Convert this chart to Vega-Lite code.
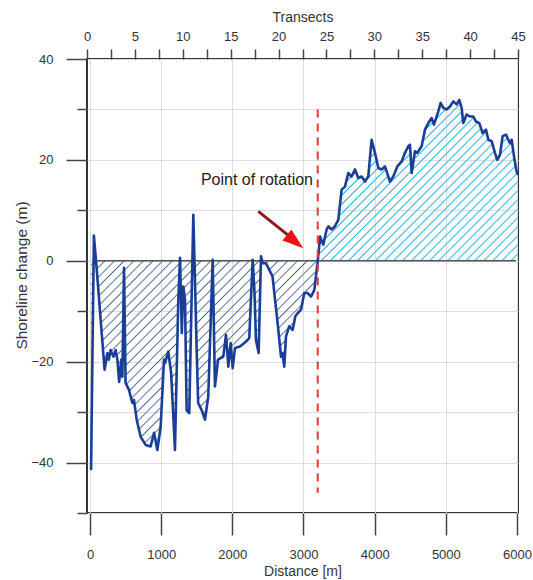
{
  "$schema": "https://vega.github.io/schema/vega-lite/v6.json",
  "autosize": {"type": "none"},
  "width": 431,
  "height": 454,
  "padding": {"left": 87, "top": 59, "right": 15, "bottom": 67},
  "config": {
    "font": "Liberation Sans",
    "view": {"stroke": "#333333", "strokeWidth": 2},
    "axis": {
      "labelFont": "Liberation Sans",
      "titleFont": "Liberation Sans",
      "labelColor": "#333333",
      "titleColor": "#333333",
      "titleFontWeight": "normal",
      "labelFontSize": 13,
      "titleFontSize": 14,
      "tickColor": "#444444",
      "tickWidth": 1.5,
      "domain": false,
      "labelFlush": false,
      "labelOverlap": false,
      "gridColor": "#dcdcdc",
      "gridWidth": 1
    }
  },
  "datasets": {
    "shoreline": [
      {"d": 15, "v": -41.5}, {"d": 55, "v": 5.0}, {"d": 95, "v": -1.8}, {"d": 205, "v": -21.6},
      {"d": 245, "v": -18.3}, {"d": 265, "v": -19.6}, {"d": 290, "v": -17.7}, {"d": 330, "v": -19.0},
      {"d": 360, "v": -17.7}, {"d": 385, "v": -19.6}, {"d": 410, "v": -24.0}, {"d": 440, "v": -19.6},
      {"d": 455, "v": -23.0}, {"d": 478, "v": -1.4}, {"d": 500, "v": -24.2}, {"d": 548, "v": -25.6},
      {"d": 595, "v": -28.2}, {"d": 618, "v": -27.6}, {"d": 656, "v": -31.5}, {"d": 712, "v": -34.9},
      {"d": 782, "v": -36.5}, {"d": 852, "v": -36.8}, {"d": 900, "v": -34.1}, {"d": 946, "v": -37.5},
      {"d": 993, "v": -32.9}, {"d": 1040, "v": -19.6}, {"d": 1054, "v": -20.3}, {"d": 1100, "v": -18.0},
      {"d": 1140, "v": -22.2}, {"d": 1194, "v": -37.5}, {"d": 1241, "v": -7.7}, {"d": 1265, "v": 0.6},
      {"d": 1290, "v": -14.3}, {"d": 1311, "v": -5.1}, {"d": 1335, "v": -7.7}, {"d": 1358, "v": -29.6},
      {"d": 1395, "v": -30.2}, {"d": 1452, "v": 9.1}, {"d": 1499, "v": -17.7}, {"d": 1520, "v": -28.2},
      {"d": 1569, "v": -29.6}, {"d": 1616, "v": -31.5}, {"d": 1662, "v": -26.9}, {"d": 1724, "v": 0.2},
      {"d": 1756, "v": -24.9}, {"d": 1800, "v": -19.6}, {"d": 1873, "v": -19.0}, {"d": 1911, "v": -14.7},
      {"d": 1944, "v": -21.0}, {"d": 1977, "v": -16.3}, {"d": 2005, "v": -21.3}, {"d": 2037, "v": -17.3},
      {"d": 2108, "v": -17.0}, {"d": 2168, "v": -16.3}, {"d": 2215, "v": -15.7}, {"d": 2238, "v": -15.3},
      {"d": 2286, "v": 0.2}, {"d": 2310, "v": -5.8}, {"d": 2332, "v": -15.7}, {"d": 2370, "v": -18.3},
      {"d": 2403, "v": 0.9}, {"d": 2425, "v": -0.5}, {"d": 2473, "v": -0.5}, {"d": 2519, "v": -1.8},
      {"d": 2565, "v": -3.1}, {"d": 2590, "v": -6.4}, {"d": 2637, "v": -12.4}, {"d": 2684, "v": -19.0},
      {"d": 2705, "v": -18.3}, {"d": 2730, "v": -21.0}, {"d": 2754, "v": -15.0}, {"d": 2800, "v": -13.0},
      {"d": 2847, "v": -13.7}, {"d": 2885, "v": -11.0}, {"d": 2918, "v": -10.4}, {"d": 2965, "v": -9.7},
      {"d": 3011, "v": -6.4}, {"d": 3058, "v": -6.4}, {"d": 3105, "v": -7.1}, {"d": 3152, "v": -5.8},
      {"d": 3175, "v": -3.1}, {"d": 3200, "v": 0.0}, {"d": 3215, "v": 2.0}, {"d": 3232, "v": 4.8},
      {"d": 3278, "v": 3.2}, {"d": 3325, "v": 6.2}, {"d": 3350, "v": 6.8}, {"d": 3395, "v": 6.2},
      {"d": 3440, "v": 6.8}, {"d": 3489, "v": 8.1}, {"d": 3536, "v": 14.1}, {"d": 3583, "v": 14.7},
      {"d": 3629, "v": 17.4}, {"d": 3676, "v": 16.7}, {"d": 3723, "v": 18.1}, {"d": 3770, "v": 16.4},
      {"d": 3817, "v": 16.7}, {"d": 3863, "v": 15.7}, {"d": 3910, "v": 16.7}, {"d": 3957, "v": 24.0},
      {"d": 4004, "v": 21.4}, {"d": 4051, "v": 18.4}, {"d": 4098, "v": 18.1}, {"d": 4145, "v": 18.7},
      {"d": 4215, "v": 15.7}, {"d": 4262, "v": 16.7}, {"d": 4318, "v": 18.7}, {"d": 4380, "v": 19.7},
      {"d": 4426, "v": 21.4}, {"d": 4473, "v": 22.7}, {"d": 4496, "v": 23.0}, {"d": 4520, "v": 17.4},
      {"d": 4566, "v": 21.7}, {"d": 4600, "v": 21.4}, {"d": 4660, "v": 22.7}, {"d": 4707, "v": 26.0},
      {"d": 4754, "v": 27.3}, {"d": 4800, "v": 28.3}, {"d": 4833, "v": 27.0}, {"d": 4894, "v": 29.6},
      {"d": 4927, "v": 31.3}, {"d": 4964, "v": 30.3}, {"d": 5011, "v": 30.0}, {"d": 5058, "v": 30.6},
      {"d": 5105, "v": 31.6}, {"d": 5152, "v": 31.0}, {"d": 5189, "v": 31.9}, {"d": 5222, "v": 30.3},
      {"d": 5245, "v": 27.3}, {"d": 5292, "v": 29.0}, {"d": 5339, "v": 28.6}, {"d": 5386, "v": 28.6},
      {"d": 5424, "v": 27.6}, {"d": 5470, "v": 27.3}, {"d": 5517, "v": 25.3}, {"d": 5564, "v": 26.0},
      {"d": 5597, "v": 24.0}, {"d": 5644, "v": 23.7}, {"d": 5690, "v": 21.4}, {"d": 5723, "v": 20.0},
      {"d": 5761, "v": 21.0}, {"d": 5798, "v": 24.7}, {"d": 5845, "v": 25.0}, {"d": 5878, "v": 24.0},
      {"d": 5902, "v": 23.3}, {"d": 5925, "v": 24.0}, {"d": 5958, "v": 20.7}, {"d": 5990, "v": 18.0},
      {"d": 6010, "v": 17.0}
    ],
    "single": [{"n": 1}]
  },
  "resolve": {"scale": {"x": "independent"}, "axis": {"x": "independent"}},
  "layer": [
    {
      "layer": [
        {
          "data": {"name": "shoreline"},
          "transform": [{"filter": "datum.d <= 3200"}],
          "mark": {
            "type": "area",
            "stroke": null,
            "fill": {
              "gradient": "linear", "x1": 0, "y1": 0, "x2": 0.939, "y2": 1.055,
              "stops": [
                {"offset": 0, "color": "rgba(255,255,255,0)"}, {"offset": 0.004, "color": "#3f6294"}, {"offset": 0.008, "color": "rgba(255,255,255,0)"},
                {"offset": 0.02, "color": "rgba(255,255,255,0)"}, {"offset": 0.024, "color": "#3f6294"}, {"offset": 0.028, "color": "rgba(255,255,255,0)"},
                {"offset": 0.04, "color": "rgba(255,255,255,0)"}, {"offset": 0.044, "color": "#3f6294"}, {"offset": 0.048, "color": "rgba(255,255,255,0)"},
                {"offset": 0.06, "color": "rgba(255,255,255,0)"}, {"offset": 0.064, "color": "#3f6294"}, {"offset": 0.068, "color": "rgba(255,255,255,0)"},
                {"offset": 0.08, "color": "rgba(255,255,255,0)"}, {"offset": 0.084, "color": "#3f6294"}, {"offset": 0.088, "color": "rgba(255,255,255,0)"},
                {"offset": 0.1, "color": "rgba(255,255,255,0)"}, {"offset": 0.104, "color": "#3f6294"}, {"offset": 0.108, "color": "rgba(255,255,255,0)"},
                {"offset": 0.12, "color": "rgba(255,255,255,0)"}, {"offset": 0.124, "color": "#3f6294"}, {"offset": 0.128, "color": "rgba(255,255,255,0)"},
                {"offset": 0.14, "color": "rgba(255,255,255,0)"}, {"offset": 0.144, "color": "#3f6294"}, {"offset": 0.148, "color": "rgba(255,255,255,0)"},
                {"offset": 0.16, "color": "rgba(255,255,255,0)"}, {"offset": 0.164, "color": "#3f6294"}, {"offset": 0.168, "color": "rgba(255,255,255,0)"},
                {"offset": 0.18, "color": "rgba(255,255,255,0)"}, {"offset": 0.184, "color": "#3f6294"}, {"offset": 0.188, "color": "rgba(255,255,255,0)"},
                {"offset": 0.2, "color": "rgba(255,255,255,0)"}, {"offset": 0.204, "color": "#3f6294"}, {"offset": 0.208, "color": "rgba(255,255,255,0)"},
                {"offset": 0.22, "color": "rgba(255,255,255,0)"}, {"offset": 0.224, "color": "#3f6294"}, {"offset": 0.228, "color": "rgba(255,255,255,0)"},
                {"offset": 0.24, "color": "rgba(255,255,255,0)"}, {"offset": 0.244, "color": "#3f6294"}, {"offset": 0.248, "color": "rgba(255,255,255,0)"},
                {"offset": 0.26, "color": "rgba(255,255,255,0)"}, {"offset": 0.264, "color": "#3f6294"}, {"offset": 0.268, "color": "rgba(255,255,255,0)"},
                {"offset": 0.28, "color": "rgba(255,255,255,0)"}, {"offset": 0.284, "color": "#3f6294"}, {"offset": 0.288, "color": "rgba(255,255,255,0)"},
                {"offset": 0.3, "color": "rgba(255,255,255,0)"}, {"offset": 0.304, "color": "#3f6294"}, {"offset": 0.308, "color": "rgba(255,255,255,0)"},
                {"offset": 0.32, "color": "rgba(255,255,255,0)"}, {"offset": 0.324, "color": "#3f6294"}, {"offset": 0.328, "color": "rgba(255,255,255,0)"},
                {"offset": 0.34, "color": "rgba(255,255,255,0)"}, {"offset": 0.344, "color": "#3f6294"}, {"offset": 0.348, "color": "rgba(255,255,255,0)"},
                {"offset": 0.36, "color": "rgba(255,255,255,0)"}, {"offset": 0.364, "color": "#3f6294"}, {"offset": 0.368, "color": "rgba(255,255,255,0)"},
                {"offset": 0.38, "color": "rgba(255,255,255,0)"}, {"offset": 0.384, "color": "#3f6294"}, {"offset": 0.388, "color": "rgba(255,255,255,0)"},
                {"offset": 0.4, "color": "rgba(255,255,255,0)"}, {"offset": 0.404, "color": "#3f6294"}, {"offset": 0.408, "color": "rgba(255,255,255,0)"},
                {"offset": 0.42, "color": "rgba(255,255,255,0)"}, {"offset": 0.424, "color": "#3f6294"}, {"offset": 0.428, "color": "rgba(255,255,255,0)"},
                {"offset": 0.44, "color": "rgba(255,255,255,0)"}, {"offset": 0.444, "color": "#3f6294"}, {"offset": 0.448, "color": "rgba(255,255,255,0)"},
                {"offset": 0.46, "color": "rgba(255,255,255,0)"}, {"offset": 0.464, "color": "#3f6294"}, {"offset": 0.468, "color": "rgba(255,255,255,0)"},
                {"offset": 0.48, "color": "rgba(255,255,255,0)"}, {"offset": 0.484, "color": "#3f6294"}, {"offset": 0.488, "color": "rgba(255,255,255,0)"},
                {"offset": 0.5, "color": "rgba(255,255,255,0)"}, {"offset": 0.504, "color": "#3f6294"}, {"offset": 0.508, "color": "rgba(255,255,255,0)"},
                {"offset": 0.52, "color": "rgba(255,255,255,0)"}, {"offset": 0.524, "color": "#3f6294"}, {"offset": 0.528, "color": "rgba(255,255,255,0)"},
                {"offset": 0.54, "color": "rgba(255,255,255,0)"}, {"offset": 0.544, "color": "#3f6294"}, {"offset": 0.548, "color": "rgba(255,255,255,0)"},
                {"offset": 0.56, "color": "rgba(255,255,255,0)"}, {"offset": 0.564, "color": "#3f6294"}, {"offset": 0.568, "color": "rgba(255,255,255,0)"},
                {"offset": 0.58, "color": "rgba(255,255,255,0)"}, {"offset": 0.584, "color": "#3f6294"}, {"offset": 0.588, "color": "rgba(255,255,255,0)"},
                {"offset": 0.6, "color": "rgba(255,255,255,0)"}, {"offset": 0.604, "color": "#3f6294"}, {"offset": 0.608, "color": "rgba(255,255,255,0)"},
                {"offset": 0.62, "color": "rgba(255,255,255,0)"}, {"offset": 0.624, "color": "#3f6294"}, {"offset": 0.628, "color": "rgba(255,255,255,0)"},
                {"offset": 0.64, "color": "rgba(255,255,255,0)"}, {"offset": 0.644, "color": "#3f6294"}, {"offset": 0.648, "color": "rgba(255,255,255,0)"},
                {"offset": 0.66, "color": "rgba(255,255,255,0)"}, {"offset": 0.664, "color": "#3f6294"}, {"offset": 0.668, "color": "rgba(255,255,255,0)"},
                {"offset": 0.68, "color": "rgba(255,255,255,0)"}, {"offset": 0.684, "color": "#3f6294"}, {"offset": 0.688, "color": "rgba(255,255,255,0)"},
                {"offset": 0.7, "color": "rgba(255,255,255,0)"}, {"offset": 0.704, "color": "#3f6294"}, {"offset": 0.708, "color": "rgba(255,255,255,0)"},
                {"offset": 0.72, "color": "rgba(255,255,255,0)"}, {"offset": 0.724, "color": "#3f6294"}, {"offset": 0.728, "color": "rgba(255,255,255,0)"},
                {"offset": 0.74, "color": "rgba(255,255,255,0)"}, {"offset": 0.744, "color": "#3f6294"}, {"offset": 0.748, "color": "rgba(255,255,255,0)"},
                {"offset": 0.76, "color": "rgba(255,255,255,0)"}, {"offset": 0.764, "color": "#3f6294"}, {"offset": 0.768, "color": "rgba(255,255,255,0)"},
                {"offset": 0.78, "color": "rgba(255,255,255,0)"}, {"offset": 0.784, "color": "#3f6294"}, {"offset": 0.788, "color": "rgba(255,255,255,0)"},
                {"offset": 0.8, "color": "rgba(255,255,255,0)"}, {"offset": 0.804, "color": "#3f6294"}, {"offset": 0.808, "color": "rgba(255,255,255,0)"},
                {"offset": 0.82, "color": "rgba(255,255,255,0)"}, {"offset": 0.824, "color": "#3f6294"}, {"offset": 0.828, "color": "rgba(255,255,255,0)"},
                {"offset": 0.84, "color": "rgba(255,255,255,0)"}, {"offset": 0.844, "color": "#3f6294"}, {"offset": 0.848, "color": "rgba(255,255,255,0)"},
                {"offset": 0.86, "color": "rgba(255,255,255,0)"}, {"offset": 0.864, "color": "#3f6294"}, {"offset": 0.868, "color": "rgba(255,255,255,0)"},
                {"offset": 0.88, "color": "rgba(255,255,255,0)"}, {"offset": 0.884, "color": "#3f6294"}, {"offset": 0.888, "color": "rgba(255,255,255,0)"},
                {"offset": 0.9, "color": "rgba(255,255,255,0)"}, {"offset": 0.904, "color": "#3f6294"}, {"offset": 0.908, "color": "rgba(255,255,255,0)"},
                {"offset": 0.92, "color": "rgba(255,255,255,0)"}, {"offset": 0.924, "color": "#3f6294"}, {"offset": 0.928, "color": "rgba(255,255,255,0)"},
                {"offset": 0.94, "color": "rgba(255,255,255,0)"}, {"offset": 0.944, "color": "#3f6294"}, {"offset": 0.948, "color": "rgba(255,255,255,0)"},
                {"offset": 0.96, "color": "rgba(255,255,255,0)"}, {"offset": 0.964, "color": "#3f6294"}, {"offset": 0.968, "color": "rgba(255,255,255,0)"},
                {"offset": 0.98, "color": "rgba(255,255,255,0)"}, {"offset": 0.984, "color": "#3f6294"}, {"offset": 0.988, "color": "rgba(255,255,255,0)"}
              ]
            }
          },
          "encoding": {
            "x": {
              "field": "d", "type": "quantitative",
              "scale": {"domain": [-42, 6014], "nice": false, "zero": false},
              "axis": {
                "orient": "bottom",
                "title": "Distance [m]",
                "values": [0, 500, 1000, 1500, 2000, 2500, 3000, 3500, 4000, 4500, 5000, 5500, 6000],
                "format": "d",
                "labelExpr": "datum.value % 1000 === 0 ? datum.label : ''",
                "tickSize": {"expr": "datum.value % 1000 === 0 ? 22 : 10"},
                "labelPadding": 23,
                "labelBaseline": "alphabetic",
                "titleBaseline": "alphabetic",
                "titleY": 62,
                "grid": true
              }
            },
            "y": {
              "field": "v", "type": "quantitative",
              "scale": {"domain": [-50, 40], "nice": false, "zero": false},
              "axis": {
                "title": "Shoreline change (m)",
                "values": [-50, -40, -30, -20, -10, 0, 10, 20, 30, 40],
                "labelExpr": "datum.value % 20 === 0 ? datum.label : ''",
                "tickSize": {"expr": "datum.value % 20 === 0 ? 21 : 10"},
                "labelPadding": 13,
                "titleFontSize": 15.5,
                "titleX": -66,
                "titleY": 216,
                "titleBaseline": "middle",
                "grid": true
              }
            },
            "y2": {"datum": 0}
          }
        },
        {
          "data": {"name": "shoreline"},
          "transform": [{"filter": "datum.d >= 3200"}],
          "mark": {
            "type": "area",
            "stroke": null,
            "fill": {
              "gradient": "linear", "x1": 0, "y1": 0, "x2": 1.095, "y2": 0.882,
              "stops": [
                {"offset": 0, "color": "rgba(255,255,255,0)"}, {"offset": 0.006, "color": "#1fb0e2"}, {"offset": 0.012, "color": "rgba(255,255,255,0)"},
                {"offset": 0.025, "color": "rgba(255,255,255,0)"}, {"offset": 0.031, "color": "#1fb0e2"}, {"offset": 0.037, "color": "rgba(255,255,255,0)"},
                {"offset": 0.05, "color": "rgba(255,255,255,0)"}, {"offset": 0.056, "color": "#1fb0e2"}, {"offset": 0.062, "color": "rgba(255,255,255,0)"},
                {"offset": 0.075, "color": "rgba(255,255,255,0)"}, {"offset": 0.081, "color": "#1fb0e2"}, {"offset": 0.087, "color": "rgba(255,255,255,0)"},
                {"offset": 0.1, "color": "rgba(255,255,255,0)"}, {"offset": 0.106, "color": "#1fb0e2"}, {"offset": 0.112, "color": "rgba(255,255,255,0)"},
                {"offset": 0.125, "color": "rgba(255,255,255,0)"}, {"offset": 0.131, "color": "#1fb0e2"}, {"offset": 0.137, "color": "rgba(255,255,255,0)"},
                {"offset": 0.15, "color": "rgba(255,255,255,0)"}, {"offset": 0.156, "color": "#1fb0e2"}, {"offset": 0.162, "color": "rgba(255,255,255,0)"},
                {"offset": 0.175, "color": "rgba(255,255,255,0)"}, {"offset": 0.181, "color": "#1fb0e2"}, {"offset": 0.187, "color": "rgba(255,255,255,0)"},
                {"offset": 0.2, "color": "rgba(255,255,255,0)"}, {"offset": 0.206, "color": "#1fb0e2"}, {"offset": 0.212, "color": "rgba(255,255,255,0)"},
                {"offset": 0.225, "color": "rgba(255,255,255,0)"}, {"offset": 0.231, "color": "#1fb0e2"}, {"offset": 0.237, "color": "rgba(255,255,255,0)"},
                {"offset": 0.25, "color": "rgba(255,255,255,0)"}, {"offset": 0.256, "color": "#1fb0e2"}, {"offset": 0.262, "color": "rgba(255,255,255,0)"},
                {"offset": 0.275, "color": "rgba(255,255,255,0)"}, {"offset": 0.281, "color": "#1fb0e2"}, {"offset": 0.287, "color": "rgba(255,255,255,0)"},
                {"offset": 0.3, "color": "rgba(255,255,255,0)"}, {"offset": 0.306, "color": "#1fb0e2"}, {"offset": 0.312, "color": "rgba(255,255,255,0)"},
                {"offset": 0.325, "color": "rgba(255,255,255,0)"}, {"offset": 0.331, "color": "#1fb0e2"}, {"offset": 0.337, "color": "rgba(255,255,255,0)"},
                {"offset": 0.35, "color": "rgba(255,255,255,0)"}, {"offset": 0.356, "color": "#1fb0e2"}, {"offset": 0.362, "color": "rgba(255,255,255,0)"},
                {"offset": 0.375, "color": "rgba(255,255,255,0)"}, {"offset": 0.381, "color": "#1fb0e2"}, {"offset": 0.387, "color": "rgba(255,255,255,0)"},
                {"offset": 0.4, "color": "rgba(255,255,255,0)"}, {"offset": 0.406, "color": "#1fb0e2"}, {"offset": 0.412, "color": "rgba(255,255,255,0)"},
                {"offset": 0.425, "color": "rgba(255,255,255,0)"}, {"offset": 0.431, "color": "#1fb0e2"}, {"offset": 0.437, "color": "rgba(255,255,255,0)"},
                {"offset": 0.45, "color": "rgba(255,255,255,0)"}, {"offset": 0.456, "color": "#1fb0e2"}, {"offset": 0.462, "color": "rgba(255,255,255,0)"},
                {"offset": 0.475, "color": "rgba(255,255,255,0)"}, {"offset": 0.481, "color": "#1fb0e2"}, {"offset": 0.487, "color": "rgba(255,255,255,0)"},
                {"offset": 0.5, "color": "rgba(255,255,255,0)"}, {"offset": 0.506, "color": "#1fb0e2"}, {"offset": 0.512, "color": "rgba(255,255,255,0)"},
                {"offset": 0.525, "color": "rgba(255,255,255,0)"}, {"offset": 0.531, "color": "#1fb0e2"}, {"offset": 0.537, "color": "rgba(255,255,255,0)"},
                {"offset": 0.55, "color": "rgba(255,255,255,0)"}, {"offset": 0.556, "color": "#1fb0e2"}, {"offset": 0.562, "color": "rgba(255,255,255,0)"},
                {"offset": 0.575, "color": "rgba(255,255,255,0)"}, {"offset": 0.581, "color": "#1fb0e2"}, {"offset": 0.587, "color": "rgba(255,255,255,0)"},
                {"offset": 0.6, "color": "rgba(255,255,255,0)"}, {"offset": 0.606, "color": "#1fb0e2"}, {"offset": 0.612, "color": "rgba(255,255,255,0)"},
                {"offset": 0.625, "color": "rgba(255,255,255,0)"}, {"offset": 0.631, "color": "#1fb0e2"}, {"offset": 0.637, "color": "rgba(255,255,255,0)"},
                {"offset": 0.65, "color": "rgba(255,255,255,0)"}, {"offset": 0.656, "color": "#1fb0e2"}, {"offset": 0.662, "color": "rgba(255,255,255,0)"},
                {"offset": 0.675, "color": "rgba(255,255,255,0)"}, {"offset": 0.681, "color": "#1fb0e2"}, {"offset": 0.687, "color": "rgba(255,255,255,0)"},
                {"offset": 0.7, "color": "rgba(255,255,255,0)"}, {"offset": 0.706, "color": "#1fb0e2"}, {"offset": 0.712, "color": "rgba(255,255,255,0)"},
                {"offset": 0.725, "color": "rgba(255,255,255,0)"}, {"offset": 0.731, "color": "#1fb0e2"}, {"offset": 0.737, "color": "rgba(255,255,255,0)"},
                {"offset": 0.75, "color": "rgba(255,255,255,0)"}, {"offset": 0.756, "color": "#1fb0e2"}, {"offset": 0.762, "color": "rgba(255,255,255,0)"},
                {"offset": 0.775, "color": "rgba(255,255,255,0)"}, {"offset": 0.781, "color": "#1fb0e2"}, {"offset": 0.787, "color": "rgba(255,255,255,0)"},
                {"offset": 0.8, "color": "rgba(255,255,255,0)"}, {"offset": 0.806, "color": "#1fb0e2"}, {"offset": 0.812, "color": "rgba(255,255,255,0)"},
                {"offset": 0.825, "color": "rgba(255,255,255,0)"}, {"offset": 0.831, "color": "#1fb0e2"}, {"offset": 0.837, "color": "rgba(255,255,255,0)"},
                {"offset": 0.85, "color": "rgba(255,255,255,0)"}, {"offset": 0.856, "color": "#1fb0e2"}, {"offset": 0.862, "color": "rgba(255,255,255,0)"},
                {"offset": 0.875, "color": "rgba(255,255,255,0)"}, {"offset": 0.881, "color": "#1fb0e2"}, {"offset": 0.887, "color": "rgba(255,255,255,0)"},
                {"offset": 0.9, "color": "rgba(255,255,255,0)"}, {"offset": 0.906, "color": "#1fb0e2"}, {"offset": 0.912, "color": "rgba(255,255,255,0)"},
                {"offset": 0.925, "color": "rgba(255,255,255,0)"}, {"offset": 0.931, "color": "#1fb0e2"}, {"offset": 0.937, "color": "rgba(255,255,255,0)"},
                {"offset": 0.95, "color": "rgba(255,255,255,0)"}, {"offset": 0.956, "color": "#1fb0e2"}, {"offset": 0.962, "color": "rgba(255,255,255,0)"},
                {"offset": 0.975, "color": "rgba(255,255,255,0)"}, {"offset": 0.981, "color": "#1fb0e2"}, {"offset": 0.987, "color": "rgba(255,255,255,0)"}
              ]
            }
          },
          "encoding": {
            "x": {"field": "d", "type": "quantitative"},
            "y": {"field": "v", "type": "quantitative"},
            "y2": {"datum": 0}
          }
        },
        {
          "data": {"name": "single"},
          "mark": {"type": "rule", "color": "#555555", "strokeWidth": 1.5},
          "encoding": {
            "x": {"datum": 40, "type": "quantitative"},
            "x2": {"datum": 5985},
            "y": {"datum": 0, "type": "quantitative"}
          }
        },
        {
          "data": {"name": "shoreline"},
          "mark": {"type": "line", "color": "#1a3e96", "strokeWidth": 2.6, "strokeJoin": "round"},
          "encoding": {
            "x": {"field": "d", "type": "quantitative"},
            "y": {"field": "v", "type": "quantitative"}
          }
        },
        {
          "data": {"name": "single"},
          "mark": {"type": "rule", "color": "#ee3333", "strokeWidth": 2, "strokeDash": [8, 6]},
          "encoding": {
            "x": {"datum": 3200, "type": "quantitative"},
            "y": {"datum": 30, "type": "quantitative"},
            "y2": {"datum": -46}
          }
        },
        {
          "data": {"name": "single"},
          "mark": {"type": "rule", "color": "#8b1a1a", "strokeWidth": 3},
          "encoding": {
            "x": {"datum": 2365, "type": "quantitative"},
            "x2": {"datum": 2800},
            "y": {"datum": 9.8, "type": "quantitative"},
            "y2": {"datum": 4.9}
          }
        },
        {
          "data": {"name": "single"},
          "mark": {
            "type": "point",
            "shape": "M-1,-0.68L1,0L-1,0.68Z",
            "filled": true,
            "color": "#ee1111",
            "opacity": 1,
            "size": 441,
            "angle": 38.7
          },
          "encoding": {
            "x": {"datum": 2882, "type": "quantitative"},
            "y": {"datum": 3.8, "type": "quantitative"}
          }
        },
        {
          "data": {"name": "single"},
          "mark": {
            "type": "text",
            "text": "Point of rotation",
            "font": "Liberation Sans",
            "fontSize": 16,
            "fill": "#222222",
            "align": "center",
            "baseline": "middle"
          },
          "encoding": {
            "x": {"datum": 2346, "type": "quantitative"},
            "y": {"datum": 16, "type": "quantitative"}
          }
        }
      ]
    },
    {
      "data": {"values": [{"t": 0}, {"t": 45}]},
      "mark": {"type": "point", "opacity": 0},
      "encoding": {
        "x": {
          "field": "t", "type": "quantitative",
          "scale": {"domain": [0, 45], "nice": false, "zero": false},
          "axis": {
            "orient": "top",
            "title": "Transects",
            "values": [0, 2.5, 5, 7.5, 10, 12.5, 15, 17.5, 20, 22.5, 25, 27.5, 30, 32.5, 35, 37.5, 40, 42.5, 45],
            "labelExpr": "datum.value % 5 === 0 ? datum.label : ''",
            "tickSize": 10,
            "labelPadding": 9,
            "labelBaseline": "alphabetic",
            "titleBaseline": "alphabetic",
            "titleY": -38,
            "grid": false
          }
        }
      }
    }
  ]
}
